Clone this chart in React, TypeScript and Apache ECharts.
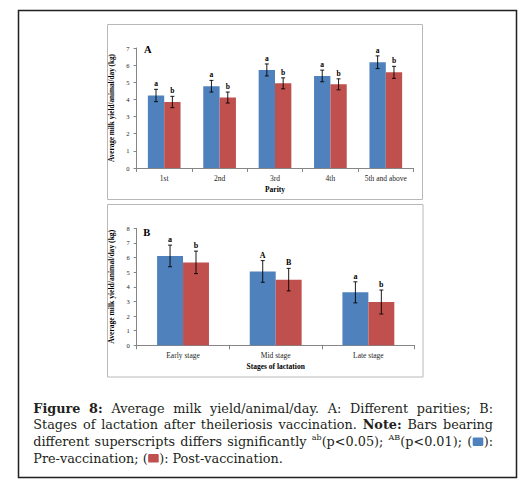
import React, { useEffect, useRef } from "react";
import * as echarts from "echarts";

const FONT = '"Liberation Serif", "Times New Roman", serif';
const CAP_FONT = '"DejaVu Serif"';
const BLUE = "#4f81bd";
const RED = "#c0504d";

// Panel A: parity
const parityCats = ["1st", "2nd", "3rd", "4th", "5th and above"];
const parityPre = [4.23, 4.77, 5.72, 5.37, 6.17];
const parityPost = [3.85, 4.11, 4.94, 4.88, 5.58];
const parityPreErr = [0.36, 0.34, 0.35, 0.34, 0.37];
const parityPostErr = [0.33, 0.32, 0.32, 0.32, 0.35];
const parityPreSig = ["a", "a", "a", "a", "a"];
const parityPostSig = ["b", "b", "b", "b", "b"];

// Panel B: stages of lactation
const stageCats = ["Early stage", "Mid stage", "Late stage"];
const stagePre = [6.11, 5.05, 3.62];
const stagePost = [5.67, 4.49, 2.96];
const stagePreErr = [0.74, 0.74, 0.72];
const stagePostErr = [0.77, 0.77, 0.82];
const stagePreSig = ["a", "A", "a"];
const stagePostSig = ["b", "B", "b"];

const yTitle = "Average milk yield/animal/day (kg)";

type Seg = { t?: string; bold?: boolean; sup?: boolean; box?: string };
const plain = (s: string, bold = false): Seg[][] => s.split(" ").map((t) => [{ t, bold }]);

const CAPTION: { words: Seg[][]; justify: boolean }[] = [
  { words: [...plain("Figure 8:", true), ...plain("Average milk yield/animal/day. A: Different parities; B:")], justify: true },
  { words: [...plain("Stages of lactation after theileriosis vaccination."), ...plain("Note:", true), ...plain("Bars bearing")], justify: true },
  {
    words: [
      ...plain("different superscripts differs significantly"),
      [{ t: "ab", sup: true }, { t: "(p<0.05);" }],
      [{ t: "AB", sup: true }, { t: "(p<0.01);" }],
      [{ t: "(" }, { box: BLUE }, { t: "):" }],
    ],
    justify: true,
  },
  { words: [...plain("Pre-vaccination;"), [{ t: "(" }, { box: RED }, { t: "):" }], ...plain("Post-vaccination.")], justify: false },
];

function buildCaption(): any[] {
  const size = 12.8;
  const supSize = 8;
  const left = 33.3;
  const right = 493;
  const y0 = 408;
  const lh = 16.7;
  const canvas = document.createElement("canvas");
  const ctx = canvas.getContext("2d")!;
  const fontOf = (s: Seg) => `${s.bold ? "bold " : ""}${s.sup ? supSize : size}px ${CAP_FONT}`;
  const segW = (s: Seg) => {
    if (s.box) return 11.5;
    ctx.font = fontOf(s);
    return ctx.measureText(s.t || "").width;
  };
  ctx.font = `${size}px ${CAP_FONT}`;
  const space = ctx.measureText(" ").width;
  const els: any[] = [];
  CAPTION.forEach((line, li) => {
    const yc = y0 + li * lh;
    const widths = line.words.map((w) => w.reduce((a, s) => a + segW(s), 0));
    const total = widths.reduce((a, b) => a + b, 0);
    const gap = line.justify ? (right - left - total) / (line.words.length - 1) : space;
    let x = left;
    line.words.forEach((w, wi) => {
      let sx = x;
      w.forEach((s) => {
        const sw = segW(s);
        if (s.box) {
          els.push({ type: "rect", shape: { x: sx + 0.5, y: yc - 4, width: 10.6, height: 8.5, r: 1.2 }, style: { fill: s.box } });
        } else {
          els.push({
            type: "text",
            x: sx,
            y: s.sup ? yc - 4 : yc,
            style: {
              text: s.t,
              font: fontOf(s),
              fill: "#231f20",
              align: "left",
              verticalAlign: "middle",
            },
          });
        }
        sx += sw;
      });
      x += widths[wi] + gap;
    });
  });
  return els;
}

function errRender(errs: number[], labels: string[], sign: number, gap: number, fontSize: number) {
  return (params: any, api: any) => {
    const i = api.value(0);
    const v = api.value(1);
    const e = errs[params.dataIndex];
    const band = api.size([1, 0])[0];
    const bw = (band * (1 - gap)) / 2;
    const top = api.coord([i, v + e]);
    const bot = api.coord([i, v - e]);
    const x = top[0] + (sign * bw) / 2;
    const cap = 2;
    const ls = { stroke: "#000", lineWidth: 0.9 };
    return {
      type: "group",
      children: [
        { type: "line", shape: { x1: x, y1: top[1], x2: x, y2: bot[1] }, style: ls },
        { type: "line", shape: { x1: x - cap, y1: top[1], x2: x + cap, y2: top[1] }, style: ls },
        { type: "line", shape: { x1: x - cap, y1: bot[1], x2: x + cap, y2: bot[1] }, style: ls },
        {
          type: "text",
          x,
          y: top[1] - 1.5,
          style: {
            text: labels[params.dataIndex],
            fontFamily: FONT,
            fontWeight: "bold",
            fontSize,
            fill: "#000",
            align: "center",
            verticalAlign: "bottom",
          },
        },
      ],
    };
  };
}

const axisLine = { show: true, lineStyle: { color: "#868686", width: 1 } };

function xAxisCfg(grid: number, data: string[], name: string) {
  return {
    gridIndex: grid,
    type: "category",
    data,
    name,
    nameLocation: "middle",
    nameGap: 17,
    nameTextStyle: { fontFamily: FONT, fontWeight: "bold", fontSize: 7.5, color: "#000" },
    axisLine,
    axisTick: { show: true, length: 4, lineStyle: { color: "#868686" } },
    axisLabel: { fontFamily: FONT, fontSize: 7.5, color: "#262626", margin: 6 },
    splitLine: { show: false },
  };
}

function yAxisCfg(grid: number, max: number, nameSize: number, gap: number) {
  return {
    gridIndex: grid,
    type: "value",
    min: 0,
    max,
    interval: 1,
    name: yTitle,
    nameLocation: "middle",
    nameGap: gap,
    nameRotate: 90,
    nameTextStyle: { fontFamily: FONT, fontWeight: "bold", fontSize: nameSize, color: "#000" },
    axisLine,
    axisTick: { show: true, length: 3, lineStyle: { color: "#868686" } },
    axisLabel: { fontFamily: FONT, fontSize: 6.5, color: "#262626", margin: 7 },
    splitLine: { show: false },
  };
}

const GAP_A = 0.41;
const GAP_B = 0.44;

export default function App() {
  const ref = useRef<HTMLDivElement>(null);
  useEffect(() => {
    if (!ref.current) return;
    const chart = echarts.init(ref.current, undefined, { renderer: "svg" });
    const barA = (data: number[], color: string) => ({
      type: "bar",
      xAxisIndex: 0,
      yAxisIndex: 0,
      data,
      barGap: "0%",
      barCategoryGap: `${GAP_A * 100}%`,
      itemStyle: { color },
    });
    const barB = (data: number[], color: string) => ({
      type: "bar",
      xAxisIndex: 1,
      yAxisIndex: 1,
      data,
      barGap: "0%",
      barCategoryGap: `${GAP_B * 100}%`,
      itemStyle: { color },
    });
    const errSeries = (axis: number, vals: number[], errs: number[], labels: string[], sign: number, gap: number, fs: number) => ({
      type: "custom",
      xAxisIndex: axis,
      yAxisIndex: axis,
      z: 10,
      data: vals.map((v, i) => [i, v]),
      encode: { x: 0, y: 1 },
      renderItem: errRender(errs, labels, sign, gap, fs),
    });
    const option: any = {
      animation: false,
      backgroundColor: "#fff",
      grid: [
        { left: 136.5, top: 48, width: 277, height: 120 },
        { left: 136.7, top: 228.3, width: 278, height: 117 },
      ],
      xAxis: [xAxisCfg(0, parityCats, "Parity"), xAxisCfg(1, stageCats, "Stages of lactation")],
      yAxis: [yAxisCfg(0, 7, 7.2, 15), yAxisCfg(1, 8, 7.6, 15)],
      series: [
        barA(parityPre, BLUE),
        barA(parityPost, RED),
        errSeries(0, parityPre, parityPreErr, parityPreSig, -1, GAP_A, 7.5),
        errSeries(0, parityPost, parityPostErr, parityPostSig, 1, GAP_A, 7.5),
        barB(stagePre, BLUE),
        barB(stagePost, RED),
        errSeries(1, stagePre, stagePreErr, stagePreSig, -1, GAP_B, 8),
        errSeries(1, stagePost, stagePostErr, stagePostSig, 1, GAP_B, 8),
      ],
      graphic: {
        elements: [
          { type: "rect", shape: { x: 18.5, y: 10.5, width: 498, height: 467 }, style: { fill: "none", stroke: "#231f20", lineWidth: 1.5 } },
          { type: "rect", shape: { x: 107.5, y: 24.5, width: 315, height: 175 }, style: { fill: "none", stroke: "#b8b8b8", lineWidth: 1 } },
          { type: "rect", shape: { x: 107.5, y: 204.5, width: 315.5, height: 172.5 }, style: { fill: "none", stroke: "#b8b8b8", lineWidth: 1 } },
          { type: "text", x: 144, y: 49.5, style: { text: "A", font: `bold 10.5px ${FONT}`, fill: "#000", verticalAlign: "middle" } },
          { type: "text", x: 143.3, y: 232.4, style: { text: "B", font: `bold 10.5px ${FONT}`, fill: "#000", verticalAlign: "middle" } },
          ...buildCaption(),
        ],
      },
    };
    chart.setOption(option);
    return () => chart.dispose();
  }, []);
  return (
    <div
      ref={ref}
      style={{ position: "absolute", left: 0, top: 0, width: 528, height: 495, background: "#fff" }}
    />
  );
}
